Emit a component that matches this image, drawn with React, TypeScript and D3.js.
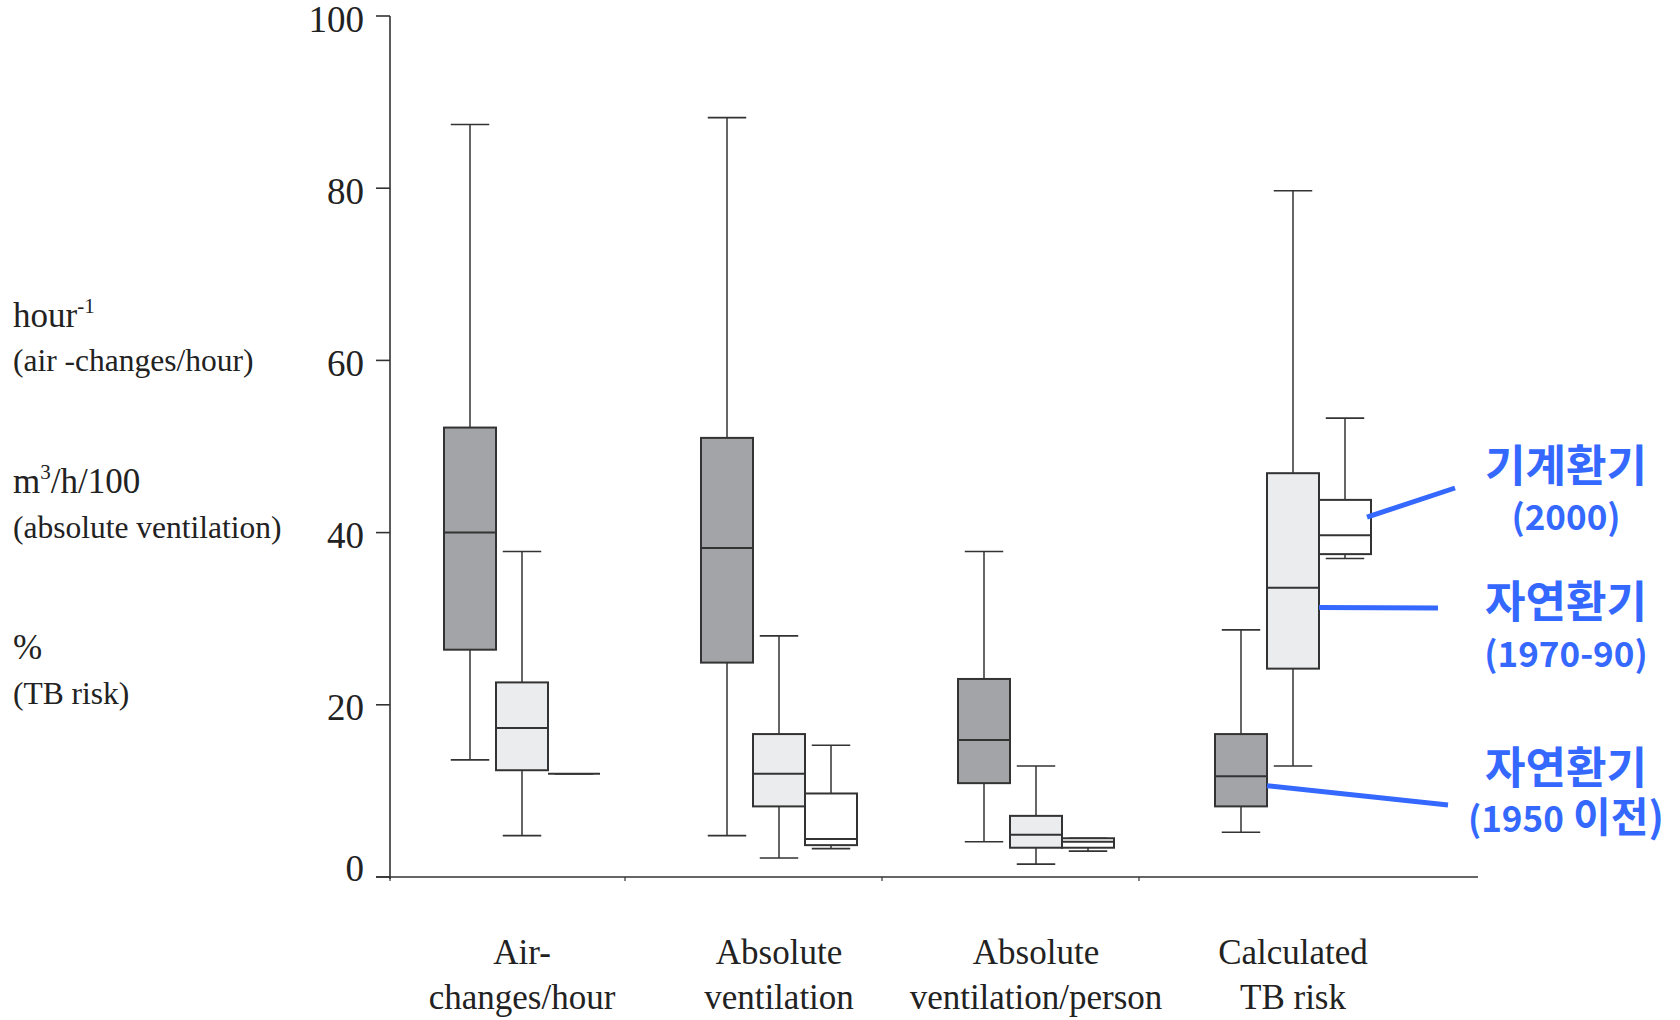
import * as d3 from 'd3';

// categories along the x axis, and the two text lines each label is split into
const categories = ['Air-changes/hour', 'Absolute ventilation', 'Absolute ventilation/person', 'Calculated TB risk'];
const categoryLines = [
  ['Air-', 'changes/hour'],
  ['Absolute', 'ventilation'],
  ['Absolute', 'ventilation/person'],
  ['Calculated', 'TB risk']
];

// three building periods (one box each per category)
const periods = ['1950 이전', '1970-90', '2000'];
const periodTitles = ['자연환기', '자연환기', '기계환기'];
const periodYears = ['(1950', '(1970-90)', '(2000)'];
const periodSuffix = [' 이전)', '', ''];

// [min, q1, median, q3, max] for each category
const before1950 = [
  [13.6, 26.4, 40.0, 52.2, 87.4],
  [4.8, 24.9, 38.2, 51.0, 88.2],
  [4.1, 10.9, 15.9, 23.0, 37.8],
  [5.2, 8.2, 11.7, 16.6, 28.7]
];
const from1970to90 = [
  [4.8, 12.4, 17.3, 22.6, 37.8],
  [2.2, 8.2, 12.0, 16.6, 28.0],
  [1.5, 3.4, 4.9, 7.1, 12.9],
  [12.9, 24.2, 33.6, 46.9, 79.7]
];
const mechanical2000 = [
  [12.0, 12.0, 12.0, 12.0, 12.0],
  [3.3, 3.7, 4.4, 9.7, 15.3],
  [3.0, 3.4, 4.1, 4.5, 4.5],
  [37.0, 37.5, 39.7, 43.8, 53.3]
];

const yTicks = [0, 20, 40, 60, 80, 100];

const seriesList = [before1950, from1970to90, mechanical2000];
const fills = ['#a3a4a8', '#ebeced', '#ffffff'];
const stroke = '#333333';
const blue = '#3468ff';
const serif = '"Liberation Serif", "Times New Roman", serif';
const korean = '"Noto Sans CJK KR", "Noto Sans", sans-serif';

export default function App() {
  const width = 1680;
  const height = 1020;
  const axisX = 390;

  const yScale = d3.scaleLinear().domain([0, 100]).range([877, 16]);
  const xBand = d3.scaleBand<string>().domain(categories).range([368, 1396]);
  const xInner = d3.scaleBand<string>().domain(periods).range([76, 232]);
  const boxW = xInner.bandwidth();
  const capW = boxW * 0.74;
  const y0 = yScale(0);

  const boxX = (ci: number, pi: number) => xBand(categories[ci])! + xInner(periods[pi])!;

  // annotation leader lines: start on the TB-risk boxes, end at the labels
  const lastCat = categories.length - 1;
  const leaders = [
    { x1: boxX(lastCat, 0) + boxW, y1: yScale(10.6), x2: 1448, y2: 805 },
    { x1: boxX(lastCat, 1) + boxW, y1: yScale(31.3), x2: 1438, y2: 608 },
    { x1: boxX(lastCat, 2) + boxW - 4, y1: yScale(41.8), x2: 1455, y2: 488 }
  ];
  const labelPos = [
    { cx: 1566, y1: 784, y2: 832 },
    { cx: 1566, y1: 618, y2: 667 },
    { cx: 1566, y1: 482, y2: 530 }
  ];

  return (
    <svg
      width={width}
      height={height}
      style={{ position: 'absolute', left: 0, top: 0, background: '#fff', display: 'block' }}
    >
      {/* y axis */}
      <line x1={axisX} x2={axisX} y1={yScale(100)} y2={y0 + 2} stroke={stroke} strokeWidth={1.6} />
      {yTicks.map((t) => (
        <g key={t}>
          <line x1={axisX - 14} x2={axisX} y1={yScale(t)} y2={yScale(t)} stroke={stroke} strokeWidth={1.6} />
          <text
            x={364}
            y={yScale(t)}
            dy={t === 0 ? '0.1em' : '0.42em'}
            textAnchor="end"
            fontFamily={serif}
            fontSize={37}
            fill="#222"
          >
            {t}
          </text>
        </g>
      ))}

      {/* x axis */}
      <line x1={axisX - 14} x2={1478} y1={y0} y2={y0} stroke={stroke} strokeWidth={1.6} />
      {[axisX, ...categories.slice(1).map((c) => xBand(c)!)].map((x, i) => (
        <line key={i} x1={x} x2={x} y1={y0} y2={y0 + 4} stroke={stroke} strokeWidth={1.2} />
      ))}

      {/* boxes */}
      {seriesList.map((series, pi) =>
        series.map((v, ci) => {
          const [mn, q1, md, q3, mx] = v;
          const x = boxX(ci, pi);
          const cx = x + boxW / 2;
          return (
            <g key={`${pi}-${ci}`} stroke={stroke}>
              <line x1={cx} x2={cx} y1={yScale(mx)} y2={yScale(q3)} strokeWidth={1.5} />
              <line x1={cx} x2={cx} y1={yScale(q1)} y2={yScale(mn)} strokeWidth={1.5} />
              <line x1={cx - capW / 2} x2={cx + capW / 2} y1={yScale(mx)} y2={yScale(mx)} strokeWidth={1.6} />
              <line x1={cx - capW / 2} x2={cx + capW / 2} y1={yScale(mn)} y2={yScale(mn)} strokeWidth={1.6} />
              <rect
                x={x}
                y={yScale(q3)}
                width={boxW}
                height={yScale(q1) - yScale(q3)}
                fill={fills[pi]}
                strokeWidth={2}
              />
              <line x1={x} x2={x + boxW} y1={yScale(md)} y2={yScale(md)} strokeWidth={2} />
            </g>
          );
        })
      )}

      {/* category labels */}
      {categoryLines.map((lines, ci) => {
        const cx = xBand(categories[ci])! + (xInner.range()[0] + xInner.range()[1]) / 2;
        return (
          <text key={ci} textAnchor="middle" fontFamily={serif} fontSize={35} fill="#222">
            <tspan x={cx} y={964}>{lines[0]}</tspan>
            <tspan x={cx} y={1009}>{lines[1]}</tspan>
          </text>
        );
      })}

      {/* unit labels on the left */}
      <g fontFamily={serif} fill="#222">
        <text x={13} y={327} fontSize={35}>
          hour<tspan fontSize={21} dy={-14}>-1</tspan>
        </text>
        <text x={13} y={371} fontSize={31.5}>(air -changes/hour)</text>
        <text x={13} y={493} fontSize={35}>
          m<tspan fontSize={21} dy={-14}>3</tspan>
          <tspan dy={14}>/h/100</tspan>
        </text>
        <text x={13} y={538} fontSize={31.5}>(absolute ventilation)</text>
        <text x={13} y={659} fontSize={35}>%</text>
        <text x={13} y={704} fontSize={31.5}>(TB risk)</text>
      </g>

      {/* annotations */}
      {leaders.map((l, i) => (
        <line key={i} x1={l.x1} y1={l.y1} x2={l.x2} y2={l.y2} stroke={blue} strokeWidth={5} />
      ))}
      {labelPos.map((p, i) => (
        <g key={i} fontFamily={korean} fontWeight={700} fill={blue} textAnchor="middle">
          <text x={p.cx} y={p.y1} fontSize={44}>{periodTitles[i]}</text>
          <text x={p.cx} y={p.y2} fontSize={35}>
            {periodYears[i]}
            {periodSuffix[i] && <tspan fontSize={41}>{periodSuffix[i]}</tspan>}
          </text>
        </g>
      ))}
    </svg>
  );
}
